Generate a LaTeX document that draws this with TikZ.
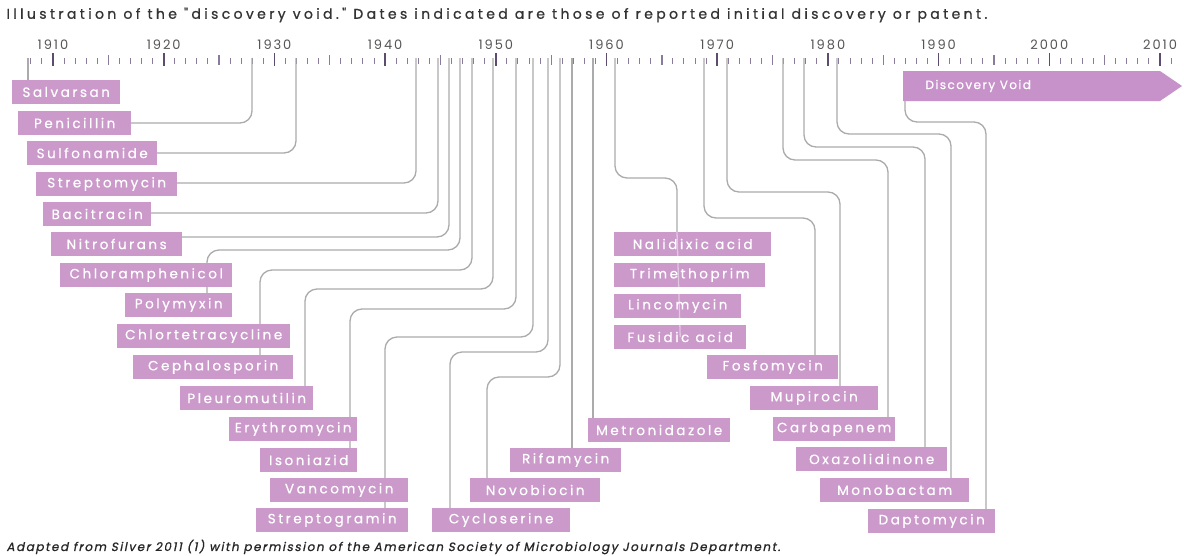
\documentclass[tikz,border=0pt]{standalone}
\usepackage{fontspec}
\setmainfont{Poppins}
\newfontfamily\titlefont[LetterSpace=24,FakeBold=0.8]{Poppins}
\newfontfamily\boxfont[LetterSpace=19,FakeBold=0.6]{Poppins}
\newfontfamily\voidfont[LetterSpace=12,FakeBold=0.6]{Poppins}
\newfontfamily\yearfont[LetterSpace=15]{Poppins}
\newfontfamily\notefont[FakeSlant=0.2,FakeBold=1,LetterSpace=13]{Poppins}
\usetikzlibrary{calc}
\definecolor{boxpink}{HTML}{CB9ACB}
\definecolor{voidpink}{HTML}{C792C9}
\definecolor{linegray}{HTML}{ABABAB}
\definecolor{tickpurple}{HTML}{8A7A9C}
\definecolor{tickdark}{HTML}{5E4B72}
\definecolor{yeargray}{HTML}{555555}
\definecolor{titlegray}{HTML}{333333}
\tikzset{
	drugnode/.style={
			shape=rectangle,
			fill=boxpink,
			text=white,
			anchor=west,
			minimum height=24pt,
			inner sep=0pt,
			font=\boxfont\fontsize{13.5}{15}\selectfont
		},
	linkline/.style={
			draw=linegray,
			line width=1.3pt,
			rounded corners=12pt
		},
	smalltick/.style={draw=tickpurple, line width=1pt},
	bigtick/.style={draw=tickdark, line width=1.6pt},
	yearlabel/.style={text=yeargray, font=\yearfont\fontsize{13}{15}\selectfont}
}
\begin{document}
\begin{tikzpicture}[x=1pt,y=-1pt]
  \useasboundingbox[fill=white] (0,0) rectangle (1184,555);

  \node[anchor=west, text=titlegray, font=\titlefont\fontsize{14}{16}\selectfont] (title) at (3,15)
    {Illustration of the "discovery void." Dates indicated are those of reported initial discovery or patent.};

  % time axis
  \foreach \yr in {1908,...,2011}{
    \pgfmathtruncatemacro\rem{mod(\yr,10)}
    \pgfmathtruncatemacro\half{mod(\yr,5)}
    \pgfmathsetmacro\tx{53+(\yr-1910)*11.07}
    \ifnum\rem=0 \draw[bigtick] (\tx,53) -- (\tx,66);
    \else\ifnum\half=0 \draw[smalltick, line width=1.3pt] (\tx,55) -- (\tx,65);
    \else \draw[smalltick] (\tx,58) -- (\tx,64); \fi\fi
  }
  \foreach \yr in {1910,1920,...,2010}
    \node[yearlabel] (yr\yr) at ({53+(\yr-1910)*11.07},45) {\yr};

  \fill[voidpink] (903,71) -- (1160,71) -- (1182,86) -- (1160,101) -- (903,101) -- cycle;
  \coordinate (voidend) at (905,101);

  % connectors
  \draw[linkline] (28,58) -- (28,80);
  \draw[linkline] (252,58) |- (131,123);
  \draw[linkline] (296,58) |- (157,153);
  \draw[linkline] (416,58) |- (177,183);
  \draw[linkline] (438,58) |- (151,213);
  \draw[linkline] (449,58) |- (182,237);
  \draw[linkline] (460,58) |- (207,250) -- (207,293);
  \draw[linkline] (472,58) |- (260,270) -- (260,355);
  \draw[linkline] (493,58) |- (305,289) -- (305,386);
  \draw[linkline] (516,58) |- (350,309) -- (350,448);
  \draw[linkline] (533,58) |- (385,337) -- (385,508);
  \draw[linkline] (548,58) |- (450,352) -- (450,508);
  \draw[linkline] (560,58) |- (487,377) -- (487,478);
  \draw[linkline] (572,58) -- (572,448);
  \draw[linkline] (593,58) -- (593,418);
  \draw[linkline] (615,58) |- (677,178) -- (677,232);
  \draw[linkline] (704,58) |- (815,218) -- (815,355);
  \draw[linkline] (727,58) |- (840,192) -- (840,386);
  \draw[linkline] (783,58) |- (888,160) -- (888,417);
  \draw[linkline] (804,58) |- (925,147) -- (925,447);
  \draw[linkline] (837,58) |- (951,134) -- (951,478);
  \draw[linkline] (voidend) |- (986,122) -- (986,509);

  % drug boxes
  \node[drugnode, minimum width=108pt] (sal) at (12,92) {Salvarsan};
  \node[drugnode, minimum width=113pt] (pen) at (18,123) {Penicillin};
  \node[drugnode, minimum width=130pt] (sul) at (27,153) {Sulfonamide};
  \node[drugnode, minimum width=141pt] (stm) at (36,184) {Streptomycin};
  \node[drugnode, minimum width=108pt] (bac) at (43,214) {Bacitracin};
  \node[drugnode, minimum width=131pt] (nit) at (51,244) {Nitrofurans};
  \node[drugnode, minimum width=172pt] (chl) at (60,275) {Chloramphenicol};
  \node[drugnode, minimum width=107pt] (pol) at (125,305) {Polymyxin};
  \node[drugnode, minimum width=173pt] (ctc) at (117,336) {Chlortetracycline};
  \node[drugnode, minimum width=160pt] (cep) at (133,367) {Cephalosporin};
  \node[drugnode, minimum width=133pt] (ple) at (180,398) {Pleuromutilin};
  \node[drugnode, minimum width=128pt] (ery) at (229,429) {Erythromycin};
  \node[drugnode, minimum width=97pt] (iso) at (260,460) {Isoniazid};
  \node[drugnode, minimum width=138pt] (van) at (270,490) {Vancomycin};
  \node[drugnode, minimum width=152pt] (stg) at (256,520) {Streptogramin};
  \node[drugnode, minimum width=138pt] (cyc) at (432,520) {Cycloserine};
  \node[drugnode, minimum width=130pt] (nov) at (470,490) {Novobiocin};
  \node[drugnode, minimum width=111pt] (rif) at (510,460) {Rifamycin};
  \node[drugnode, minimum width=142pt] (met) at (588,430) {Metronidazole};
  \node[drugnode, minimum width=157pt] (nal) at (614,244) {Nalidixic acid};
  \node[drugnode, minimum width=151pt] (tmp) at (614,275) {Trimethoprim};
  \node[drugnode, minimum width=127pt] (lin) at (614,306) {Lincomycin};
  \node[drugnode, minimum width=132pt] (fus) at (614,337) {Fusidic acid};
  \node[drugnode, minimum width=131pt] (fos) at (707,367) {Fosfomycin};
  \node[drugnode, minimum width=128pt] (mup) at (750,398) {Mupirocin};
  \node[drugnode, minimum width=122pt] (car) at (773,429) {Carbapenem};
  \node[drugnode, minimum width=151pt] (oxa) at (796,459) {Oxazolidinone};
  \node[drugnode, minimum width=149pt] (mon) at (820,490) {Monobactam};
  \node[drugnode, minimum width=127pt] (dap) at (868,521) {Daptomycin};

  \draw[linkline, draw=white, draw opacity=0.45] (677,232) -- (fus.center);

  \node[anchor=west, text=white, font=\voidfont\fontsize{12}{14}\selectfont] (void) at (922,86) {Discovery Void};

  \node[anchor=west, text=black!85, font=\notefont\fontsize{12}{14}\selectfont] (note) at (3,547)
    {Adapted from Silver 2011 (1) with permission of the American Society of Microbiology Journals Department.};
\end{tikzpicture}
\end{document}
